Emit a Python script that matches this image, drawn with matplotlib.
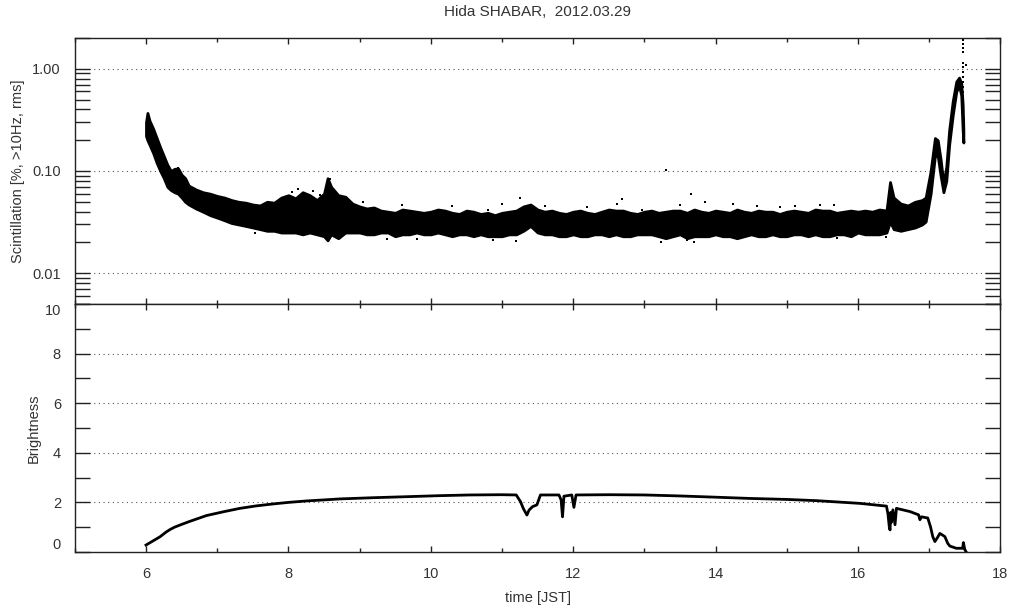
import matplotlib
matplotlib.use("Agg")
import matplotlib.pyplot as plt
from matplotlib.ticker import MultipleLocator, LogLocator, FixedLocator, FixedFormatter, NullFormatter

# ---------------- data ----------------
# Scintillation cloud: lower / upper envelope of the dense band of points
scint_t = [6.00, 6.02, 6.05, 6.10, 6.15, 6.20, 6.25, 6.30, 6.35, 6.40, 6.45, 6.50, 6.55,
           6.60, 6.70, 6.80, 6.90, 7.00, 7.10, 7.20, 7.30, 7.40, 7.50, 7.60, 7.70, 7.80,
           7.90, 8.00, 8.10, 8.20, 8.30, 8.40, 8.50, 8.55, 8.60, 8.70, 8.80, 8.90,
           9.0, 9.1, 9.2, 9.3, 9.4, 9.5, 9.6, 9.7, 9.8, 9.9,
           10.0, 10.1, 10.2, 10.3, 10.4, 10.5, 10.6, 10.7, 10.8, 10.9,
           11.0, 11.1, 11.2, 11.3, 11.4, 11.5, 11.6, 11.7, 11.8, 11.9,
           12.0, 12.1, 12.2, 12.3, 12.4, 12.5, 12.6, 12.7, 12.8, 12.9,
           13.0, 13.1, 13.2, 13.3, 13.4, 13.5, 13.6, 13.7, 13.8, 13.9,
           14.0, 14.1, 14.2, 14.3, 14.4, 14.5, 14.6, 14.7, 14.8, 14.9,
           15.0, 15.1, 15.2, 15.3, 15.4, 15.5, 15.6, 15.7, 15.8, 15.9,
           16.0, 16.1, 16.2, 16.3, 16.40, 16.45, 16.50, 16.60, 16.70, 16.80, 16.90,
           16.95, 17.02, 17.08, 17.12, 17.16, 17.20, 17.24, 17.28, 17.33, 17.38, 17.42,
           17.45, 17.47, 17.48]
scint_high = [0.30, 0.37, 0.31, 0.26, 0.21, 0.17, 0.14, 0.115, 0.100, 0.105, 0.106, 0.092, 0.085,
              0.072, 0.066, 0.062, 0.060, 0.057, 0.055, 0.052, 0.050, 0.049, 0.047, 0.046, 0.050, 0.049,
              0.055, 0.058, 0.054, 0.062, 0.058, 0.052, 0.060, 0.085, 0.070, 0.058, 0.056, 0.048,
              0.045, 0.043, 0.044, 0.041, 0.040, 0.039, 0.042, 0.041, 0.040, 0.039,
              0.040, 0.042, 0.041, 0.039, 0.038, 0.041, 0.040, 0.038, 0.039, 0.037,
              0.039, 0.040, 0.041, 0.045, 0.047, 0.042, 0.040, 0.041, 0.039, 0.038,
              0.040, 0.041, 0.039, 0.038, 0.040, 0.042, 0.041, 0.041, 0.039, 0.038,
              0.040, 0.041, 0.039, 0.040, 0.041, 0.041, 0.039, 0.042, 0.040, 0.039,
              0.041, 0.040, 0.039, 0.042, 0.040, 0.039, 0.041, 0.040, 0.040, 0.038,
              0.040, 0.041, 0.040, 0.039, 0.042, 0.041, 0.041, 0.039, 0.040, 0.041,
              0.040, 0.041, 0.040, 0.042, 0.041, 0.078, 0.055, 0.048, 0.046, 0.050, 0.052,
              0.055, 0.100, 0.210, 0.200, 0.130, 0.075, 0.110, 0.250, 0.480, 0.750, 0.820,
              0.720, 0.450, 0.250]
scint_low = [0.22, 0.20, 0.18, 0.15, 0.12, 0.10, 0.085, 0.070, 0.065, 0.062, 0.060, 0.055, 0.050,
             0.047, 0.043, 0.040, 0.037, 0.035, 0.033, 0.031, 0.030, 0.029, 0.028, 0.027, 0.026, 0.026,
             0.025, 0.025, 0.025, 0.024, 0.025, 0.024, 0.023, 0.021, 0.024, 0.022, 0.025, 0.025,
             0.025, 0.024, 0.024, 0.025, 0.025, 0.023, 0.024, 0.024, 0.025, 0.024,
             0.024, 0.025, 0.024, 0.023, 0.024, 0.024, 0.023, 0.024, 0.023, 0.023,
             0.023, 0.024, 0.024, 0.026, 0.029, 0.025, 0.024, 0.024, 0.023, 0.023,
             0.024, 0.023, 0.023, 0.024, 0.024, 0.023, 0.024, 0.023, 0.023, 0.024,
             0.024, 0.024, 0.023, 0.022, 0.023, 0.024, 0.022, 0.023, 0.023, 0.023,
             0.024, 0.023, 0.023, 0.022, 0.023, 0.024, 0.023, 0.023, 0.024, 0.023,
             0.023, 0.024, 0.024, 0.023, 0.024, 0.023, 0.023, 0.024, 0.024, 0.023,
             0.025, 0.024, 0.024, 0.024, 0.025, 0.032, 0.027, 0.026, 0.027, 0.028, 0.030,
             0.032, 0.060, 0.140, 0.140, 0.090, 0.062, 0.080, 0.180, 0.350, 0.600, 0.680,
             0.550, 0.250, 0.190]

# isolated points outside the dense band
out_t = [6.45, 8.14, 8.59, 8.59, 7.53, 7.92, 9.38, 9.80, 10.81, 10.88, 11.00, 11.20,
         11.25, 12.61, 12.68, 12.96, 13.24, 13.30, 13.50, 13.66, 13.69, 13.60, 13.85,
         14.25, 14.58, 15.12, 15.47, 15.66, 15.70, 16.40, 8.05, 8.35, 8.45, 9.05, 9.60,
         10.30, 11.60, 12.20, 14.90,
         17.48, 17.48, 17.48, 17.48, 17.48, 17.48, 17.48, 17.48, 17.48, 17.48, 17.48, 17.52]
out_v = [0.106, 0.066, 0.083, 0.076, 0.0245, 0.0245, 0.0215, 0.0215, 0.042, 0.021, 0.048, 0.0206,
         0.054, 0.048, 0.053, 0.042, 0.0203, 0.102, 0.046, 0.060, 0.020, 0.021, 0.050,
         0.048, 0.045, 0.045, 0.047, 0.046, 0.022, 0.0225, 0.062, 0.064, 0.058, 0.050, 0.046,
         0.045, 0.045, 0.044, 0.044,
         1.91, 1.75, 1.60, 1.46, 1.14, 1.04, 0.93, 0.83, 0.74, 0.66, 0.59, 1.09]

# Brightness curve
bright_t = [6.00, 6.10, 6.20, 6.28, 6.34, 6.40, 6.48, 6.60, 6.85, 7.10, 7.32, 7.55,
            7.79, 8.00, 8.26, 8.50, 8.72, 9.20, 9.66, 10.1, 10.55, 11.0, 11.20, 11.26,
            11.30, 11.35, 11.38, 11.43, 11.49, 11.54, 11.80, 11.83, 11.85, 11.87, 11.98,
            12.01, 12.04, 12.5, 13.0, 13.5, 14.0, 14.48, 15.0, 15.42, 16.03, 16.40, 16.42,
            16.44, 16.45, 16.46, 16.47, 16.49, 16.52, 16.54, 16.73, 16.85, 16.87, 16.89,
            16.98, 17.02, 17.05, 17.08, 17.12, 17.15, 17.22, 17.26, 17.29, 17.38, 17.47,
            17.48, 17.50, 17.52]
bright_v = [0.28, 0.45, 0.62, 0.80, 0.91, 1.00, 1.09, 1.22, 1.47, 1.63, 1.76, 1.86,
            1.94, 2.00, 2.06, 2.10, 2.14, 2.19, 2.23, 2.27, 2.30, 2.31, 2.30, 2.03,
            1.75, 1.49, 1.69, 1.83, 1.90, 2.30, 2.30, 2.10, 1.42, 2.25, 2.30,
            1.80, 2.30, 2.31, 2.30, 2.26, 2.21, 2.16, 2.12, 2.07, 1.96, 1.85, 1.55,
            1.00, 0.89, 1.60, 1.20, 1.70, 1.10, 1.76, 1.63, 1.50, 1.30, 1.42,
            1.37, 1.00, 0.62, 0.42, 0.60, 0.75, 0.62, 0.35, 0.24, 0.15, 0.15,
            0.38, 0.10, 0.00]

x_major = [6, 8, 10, 12, 14, 16, 18]
x_minor = [5, 7, 9, 11, 13, 15, 17]
top_ticks = [0.01, 0.1, 1.0]
top_labels = ["0.01", "0.10", "1.00"]

title = "Hida SHABAR,  2012.03.29"
xlabel = "time [JST]"
ylabel_top = "Scintillation [%, >10Hz, rms]"
ylabel_bot = "Brightness"

# ---------------- figure ----------------
plt.rcParams['font.family'] = ['Liberation Sans', 'DejaVu Sans']
TXT = '#333333'
AX = '#222222'
FS = 10.5

fig = plt.figure(figsize=(10.12, 6.08), dpi=100)
L, W = 74.8 / 1012, (1000.4 - 74.8) / 1012
ax1 = fig.add_axes([L, 1 - 304 / 608, W, (304 - 38) / 608])
ax2 = fig.add_axes([L, 1 - 552 / 608, W, (552 - 304) / 608])

grid_kw = dict(color='#555555', linewidth=0.8, linestyle=(0, (1, 3.2)))

# top panel
ax1.set_yscale('log')
ax1.fill_between(scint_t, scint_low, scint_high, facecolor='black', edgecolor='black',
                 linewidth=2.0, zorder=3)
ax1.scatter(out_t, out_v, s=4.5, marker='s', color='black', linewidths=0, zorder=3)
ax1.set_xlim(5, 18)
ax1.set_ylim(0.005, 2.0)
for v in top_ticks:
    ax1.axhline(v, zorder=1, **grid_kw)
ax1.yaxis.set_major_locator(FixedLocator(top_ticks))
ax1.yaxis.set_major_formatter(FixedFormatter(top_labels))
ax1.yaxis.set_minor_locator(LogLocator(base=10, subs=range(2, 10)))
ax1.yaxis.set_minor_formatter(NullFormatter())
ax1.set_ylabel(ylabel_top, fontsize=FS, color=TXT, labelpad=5)

# bottom panel
ax2.plot(bright_t, bright_v, color='black', linewidth=2.0, zorder=3,
         solid_joinstyle='round')
ax2.set_xlim(5, 18)
ax2.set_ylim(0, 10)
for v in [2, 4, 6, 8]:
    ax2.axhline(v, zorder=1, **grid_kw)
ax2.yaxis.set_major_locator(MultipleLocator(2))
ax2.yaxis.set_minor_locator(MultipleLocator(1))
ax2.set_ylabel(ylabel_bot, fontsize=FS, color=TXT, labelpad=3)

for ax in (ax1, ax2):
    ax.xaxis.set_major_locator(FixedLocator(x_major))
    ax.xaxis.set_minor_locator(FixedLocator(x_minor))
    for s in ax.spines.values():
        s.set_color(AX)
        s.set_linewidth(1.0)
    ax.tick_params(axis='y', which='both', direction='in', left=True, right=True,
                   length=10.8, width=1.0, color=AX, labelsize=FS, labelcolor=TXT, pad=10)
    ax.tick_params(axis='x', which='major', direction='in', top=True, bottom=True,
                   length=4.5, width=1.0, color=AX)
    ax.tick_params(axis='x', which='minor', direction='in', top=True, bottom=True,
                   length=3.0, width=1.0, color=AX)

ax1.tick_params(axis='x', which='both', labelbottom=False)
ax2.tick_params(axis='x', which='major', labelsize=FS, labelcolor=TXT, pad=11)

# keep end labels of the lower panel inside the panel, as in the original
fig.canvas.draw()
for lab in ax2.get_yticklabels():
    if lab.get_text() == '10':
        lab.set_verticalalignment('top')
    elif lab.get_text() == '0':
        lab.set_verticalalignment('bottom')

fig.text((74.8 + 1000.4) / 2 / 1012, 1 - 12 / 608, title, ha='center', va='center',
         fontsize=FS + 0.5, color=TXT)
fig.text((74.8 + 1000.4) / 2 / 1012, 1 - 598 / 608, xlabel, ha='center', va='center',
         fontsize=FS, color=TXT)

fig.savefig('out.png', dpi=100)
